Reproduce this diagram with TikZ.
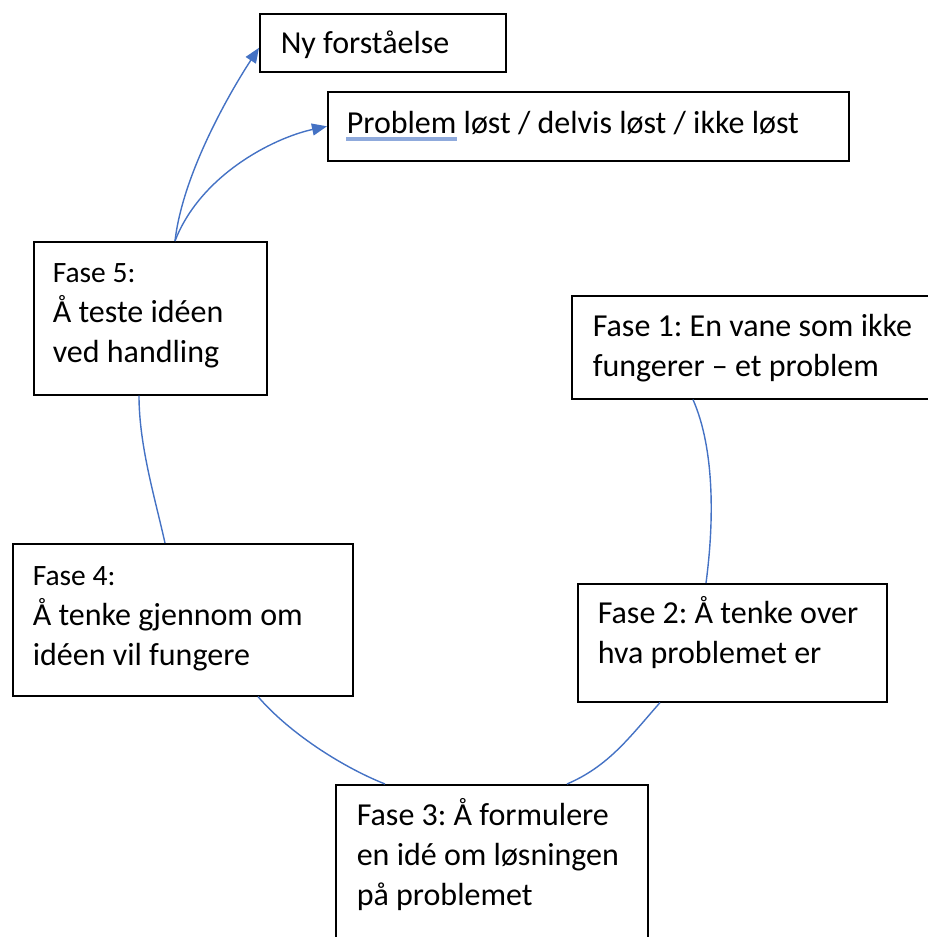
\documentclass[tikz,border=0pt]{standalone}
\usepackage{fontspec}
\setmainfont{Carlito}
\usetikzlibrary{arrows.meta}
\frenchspacing

\definecolor{linkblue}{HTML}{4472C4}
\definecolor{spellblue}{HTML}{8FAADC}

\begin{document}
\begin{tikzpicture}[
        x=1pt, y=-1pt,
        fase/.style={draw=black, line width=1.6pt, anchor=north west, align=left,
            inner ysep=0pt, font=\fontsize{32}{40}\selectfont,
            execute at begin node={\spaceskip=0pt\xspaceskip=0pt\relax}},
        link/.style={draw=linkblue, line width=1.4pt},
        pil/.style={link, -{Triangle[length=15pt,width=12pt]}}
    ]
        \useasboundingbox (0,0) rectangle (928,937);
        \clip (0,0) rectangle (928,937);

        \node[fase, inner xsep=21pt, text width=204pt, text height=40pt, text depth=18pt]
            (ny) at (259,13) {Ny forståelse};
        \node[fase, inner xsep=19pt, text width=483pt, text height=42pt, text depth=27pt]
            (prob) at (327,91) {Problem løst / delvis løst / ikke løst};
        \node[fase, inner xsep=19pt, text width=195pt, text height=41pt, text depth=112pt]
            (f5) at (33,241) {{\fontsize{29.5}{40}\selectfont Fase 5:}\\Å teste idéen\\ved handling};
        \node[fase, inner xsep=21pt, text width=337pt, text height=41pt, text depth=62pt]
            (f1) at (571,295) {Fase 1: En vane som ikke\\fungerer – et problem};
        \node[fase, inner xsep=20pt, text width=269pt, text height=40pt, text depth=78pt]
            (f2) at (577,583) {Fase 2: Å tenke over\\hva problemet er};
        \node[fase, inner xsep=20pt, text width=300pt, text height=42pt, text depth=110pt]
            (f4) at (12,543) {{\fontsize{29.5}{40}\selectfont Fase 4:}\\Å tenke gjennom om\\idéen vil fungere};
        \node[fase, inner xsep=21pt, text width=270pt, text height=41pt, text depth=135pt]
            (f3) at (335,784) {Fase 3: Å formulere\\en idé om løsningen\\på problemet};

        \draw[spellblue, line width=4pt] ([xshift=19pt, yshift=-5.5pt]prob.base west) -- ++(111,0);

        \draw[link] ([xshift=122pt]f1.south west) .. controls +(22,50) and +(8,-60) .. ([xshift=129pt]f2.north west);
        \draw[link] ([xshift=83pt]f2.south west) .. controls +(-30,34) and +(42,-18) .. ([xshift=232pt]f3.north west);
        \draw[link] ([xshift=50pt]f3.north west) .. controls +(-45,-18) and +(30,35) .. ([xshift=246pt]f4.south west);
        \draw[link] ([xshift=153pt]f4.north west) .. controls +(-10,-45) and +(0,50) .. ([xshift=106pt]f5.south west);

        \draw[pil] ([xshift=142pt]f5.north west) .. controls +(8,-70) and +(-25,38) .. ([yshift=-5pt]ny.west);
        \draw[pil] ([xshift=142pt]f5.north west) .. controls +(25,-65) and +(-55,12) .. (prob.west);
\end{tikzpicture}
\end{document}
